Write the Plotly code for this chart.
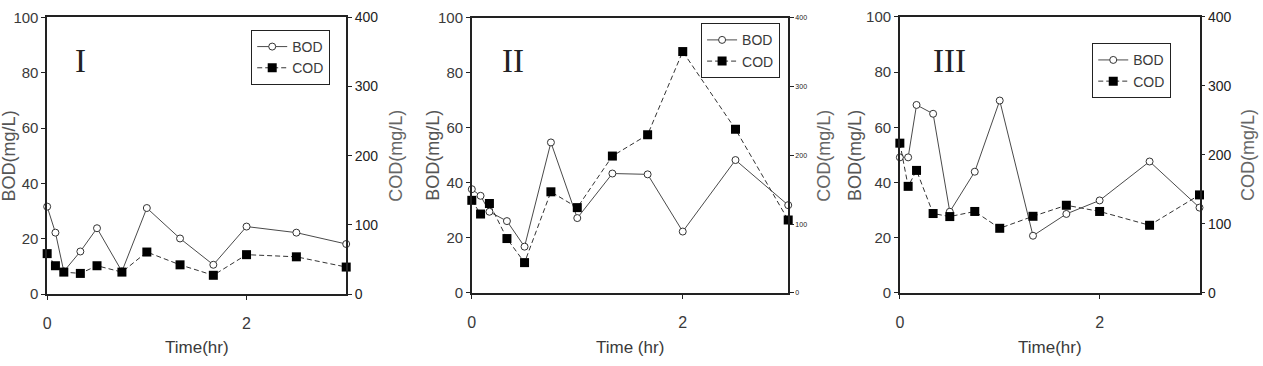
import plotly.graph_objects as go

# ---------------- data ----------------
time_hr = [0, 0.083, 0.167, 0.333, 0.5, 0.75, 1.0, 1.333, 1.667, 2.0, 2.5, 3.0]

bod_I = [31.6, 22.2, 8.2, 15.4, 23.8, 8.2, 31.1, 20.1, 10.6, 24.4, 22.2, 18.1]
cod_I = [58.5, 41, 31.8, 29.9, 41, 31.8, 60.8, 42.3, 27.2, 57, 53.9, 39.1]

bod_II = [37.7, 35.3, 29.5, 26.1, 16.8, 54.7, 27.2, 43.4, 43.1, 22.3, 48.3, 31.9]
cod_II = [134.6, 114.7, 130, 79, 44, 147, 124, 199, 230, 351, 238, 106]

bod_III = [49.1, 49.1, 68.1, 64.9, 29.4, 43.9, 69.7, 20.7, 28.6, 33.5, 47.6, 30.9]
cod_III = [217, 154.4, 177.5, 115, 110.6, 118, 93.6, 111, 127, 118, 98, 142]

panel_labels = ["I", "II", "III"]
series_names = ["BOD", "COD"]
x_title = ["Time(hr)", "Time (hr)", "Time(hr)"]
left_title = "BOD(mg/L)"
right_title = "COD(mg/L)"

# ---------------- layout geometry (pixels) ----------------
W, H = 1263, 366
panels_px = [  # x0, x1, ytop, ybottom
    (43.3, 343.3, 8.7, 299.0),
    (469.3, 786.7, 9.3, 297.7),
    (898.7, 1199.3, 8.3, 297.7),
]
legend_px = [(248, 22), (699.3, 15), (1091.7, 36)]
roman_px = [(76.7, 55), (510.7, 55), (948.3, 55)]
left_title_x = [4.7, 430.7, 853.7]
right_title_x = [393.3, 823.0, 1248.0]
right_tick_size = [14, 7, 14]

NARROW = "Liberation Sans Narrow, Arial Narrow, Liberation Sans, Arial"
TXT = "#3a3a3a"

data_sets = [(bod_I, cod_I), (bod_II, cod_II), (bod_III, cod_III)]

fig = go.Figure()
layout = dict(
    width=W, height=H, margin=dict(l=0, r=0, t=0, b=0),
    paper_bgcolor="white", plot_bgcolor="white",
    annotations=[],
)

for i, ((bod, cod), (x0, x1, yt, yb)) in enumerate(zip(data_sets, panels_px)):
    xa = "x" if i == 0 else f"x{i+1}"
    ya_l = "y" if i == 0 else f"y{2*i+1}"
    ya_r = f"y{2*i+2}"
    leg = "legend" if i == 0 else f"legend{i+1}"

    fig.add_trace(go.Scatter(
        x=time_hr, y=bod, xaxis=xa, yaxis=ya_l, name=series_names[0],
        mode="lines+markers", legend=leg, cliponaxis=False,
        line=dict(color="#4a4a4a", width=1),
        marker=dict(symbol="circle", size=7, color="white",
                    line=dict(color="#333333", width=1)),
    ))
    fig.add_trace(go.Scatter(
        x=time_hr, y=cod, xaxis=xa, yaxis=ya_r, name=series_names[1],
        mode="lines+markers", legend=leg, cliponaxis=False,
        line=dict(color="#333333", width=1, dash="5px,3px"),
        marker=dict(symbol="square", size=9, color="black",
                    line=dict(color="black", width=0)),
    ))

    xdom = [x0 / W, x1 / W]
    ydom = [1 - yb / H, 1 - yt / H]
    xkey = "xaxis" if i == 0 else f"xaxis{i+1}"
    ylkey = "yaxis" if i == 0 else f"yaxis{2*i+1}"
    yrkey = f"yaxis{2*i+2}"

    layout[xkey] = dict(
        domain=xdom, anchor=ya_l, range=[0, 3], tickvals=[0, 2],
        ticks="outside", ticklen=4, tickcolor="#222", showline=True,
        linecolor="#222", linewidth=1.5, mirror=True, showgrid=False,
        zeroline=False, tickfont=dict(family="Liberation Sans, Arial", size=16, color=TXT),
        ticklabelstandoff=10,
    )
    layout[ylkey] = dict(
        domain=ydom, anchor=xa, range=[0, 100], dtick=20,
        ticks="outside", ticklen=4, tickcolor="#222", showline=True,
        linecolor="#222", linewidth=1.5, showgrid=False, zeroline=False,
        tickfont=dict(family=NARROW, size=15, color=TXT),
    )
    layout[yrkey] = dict(
        domain=ydom, anchor=xa, overlaying=ya_l, side="right",
        range=[0, 400], dtick=100, ticks="outside", ticklen=4,
        tickcolor="#222", showline=True, linecolor="#222", linewidth=1.5,
        showgrid=False, zeroline=False,
        tickfont=dict(family=NARROW, size=right_tick_size[i], color="#222"),
    )

    lx, ly = legend_px[i]
    layout[leg] = dict(
        x=lx / W, y=1 - ly / H, xanchor="left", yanchor="top",
        bordercolor="#222", borderwidth=1, bgcolor="white",
        font=dict(family=NARROW, size=14, color=TXT),
        itemwidth=30, tracegroupgap=0,
    )

    ann = layout["annotations"]
    rx, ry = roman_px[i]
    ann.append(dict(text=panel_labels[i], xref="paper", yref="paper",
                    x=rx / W, y=1 - ry / H, xanchor="center", yanchor="middle",
                    showarrow=False,
                    font=dict(family="Liberation Serif, Times New Roman, serif", size=33, color="#222")))
    ymid = 1 - ((yt + yb) / 2) / H
    ann.append(dict(text=left_title, xref="paper", yref="paper",
                    x=left_title_x[i] / W, y=ymid, xanchor="center", yanchor="middle",
                    textangle=-90, showarrow=False,
                    font=dict(family=NARROW, size=18, color="#555")))
    ann.append(dict(text=right_title, xref="paper", yref="paper",
                    x=right_title_x[i] / W, y=ymid, xanchor="center", yanchor="middle",
                    textangle=-90, showarrow=False,
                    font=dict(family=NARROW, size=18, color="#666")))
    ann.append(dict(text=x_title[i], xref="paper", yref="paper",
                    x=((x0 + x1) / 2) / W, y=1 - 355 / H, xanchor="center", yanchor="middle",
                    showarrow=False,
                    font=dict(family=NARROW, size=17, color=TXT)))

fig.update_layout(**layout)
fig.write_html("out.html")
